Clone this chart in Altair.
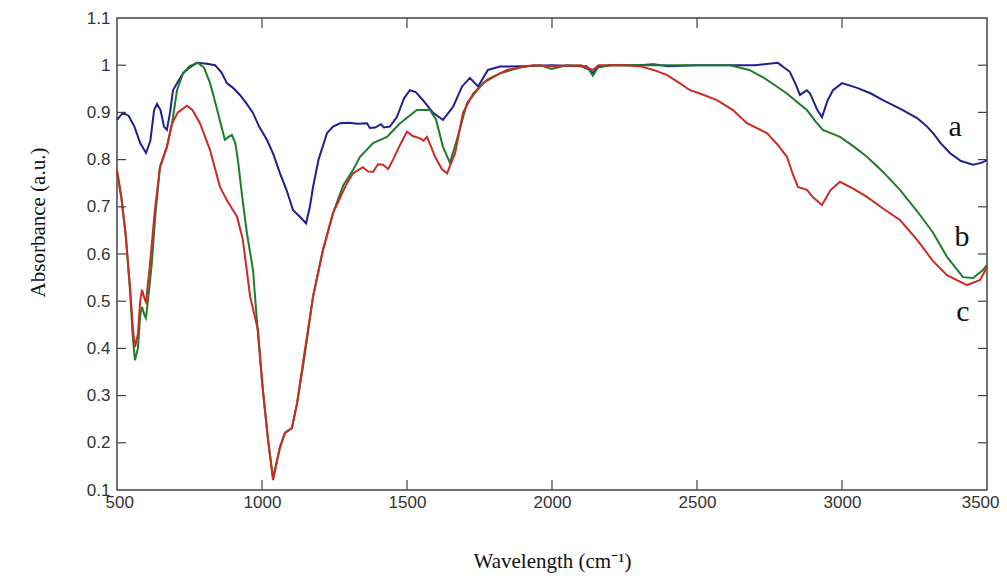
import altair as alt
import pandas as pd

# ---- data ----
a_x = [500, 520, 540, 560, 580, 600, 615, 628, 638, 650, 662, 672, 683, 693, 710, 728, 750, 775, 810, 838,
       860, 879, 900, 924, 945, 969, 990, 1017, 1040, 1062, 1085, 1107, 1131, 1152, 1165, 1176, 1195, 1224,
       1245, 1269, 1300, 1330, 1362, 1372, 1390, 1410, 1420, 1441, 1465, 1490, 1510, 1530, 1555, 1590, 1624,
       1659, 1690, 1717, 1745, 1779, 1821, 1900, 2000, 2100, 2130, 2141, 2155, 2200, 2300, 2350, 2400, 2500,
       2600, 2700, 2779, 2800, 2820, 2840, 2855, 2867, 2879, 2890, 2900, 2915, 2931, 2950, 2969, 3000, 3052,
       3100, 3141, 3200, 3259, 3290, 3314, 3340, 3372, 3410, 3452, 3480, 3500]
a_y = [0.884, 0.899, 0.893, 0.870, 0.835, 0.814, 0.840, 0.905, 0.918, 0.905, 0.870, 0.863, 0.900, 0.947,
       0.965, 0.983, 0.995, 1.005, 1.003, 1.000, 0.985, 0.962, 0.952, 0.937, 0.920, 0.899, 0.870, 0.842,
       0.810, 0.771, 0.735, 0.693, 0.679, 0.665, 0.700, 0.742, 0.800, 0.856, 0.870, 0.877, 0.878, 0.876,
       0.877, 0.867, 0.868, 0.875, 0.868, 0.870, 0.890, 0.930, 0.947, 0.943, 0.926, 0.899, 0.884, 0.912,
       0.955, 0.973, 0.955, 0.990, 0.997, 0.998, 1.000, 0.998, 0.990, 0.983, 0.995, 1.000, 1.000, 1.002,
       0.998, 1.000, 1.000, 1.000, 1.005, 0.995, 0.986, 0.960, 0.937, 0.942, 0.947, 0.940, 0.926, 0.905,
       0.890, 0.925, 0.947, 0.962, 0.952, 0.940, 0.926, 0.908, 0.888, 0.872, 0.856, 0.835, 0.814, 0.797,
       0.789, 0.793, 0.799]

b_x = [500, 515, 530, 545, 555, 562, 572, 580, 586, 595, 600, 610, 620, 632, 648, 672, 690, 707, 728, 750,
       779, 800, 821, 835, 848, 872, 885, 896, 908, 917, 930, 948, 969, 983, 1000, 1020, 1038, 1062, 1079,
       1103, 1121, 1141, 1160, 1176, 1210, 1245, 1280, 1314, 1338, 1383, 1431, 1476, 1534, 1579, 1600, 1624,
       1648, 1672, 1707, 1762, 1821, 1900, 1960, 1999, 2050, 2120, 2141, 2160, 2200, 2400, 2500, 2614, 2680,
       2731, 2770, 2810, 2845, 2879, 2910, 2934, 2993, 3040, 3086, 3140, 3200, 3260, 3314, 3362, 3417, 3452,
       3486, 3500]
b_y = [0.775, 0.720, 0.640, 0.520, 0.420, 0.375, 0.400, 0.470, 0.488, 0.470, 0.464, 0.520, 0.580, 0.680,
       0.784, 0.827, 0.877, 0.947, 0.983, 0.998, 1.005, 0.995, 0.962, 0.930, 0.899, 0.842, 0.848, 0.852,
       0.835, 0.799, 0.730, 0.644, 0.566, 0.454, 0.330, 0.210, 0.125, 0.191, 0.221, 0.231, 0.284, 0.360,
       0.440, 0.510, 0.608, 0.687, 0.745, 0.778, 0.806, 0.835, 0.848, 0.877, 0.905, 0.905, 0.885, 0.827,
       0.793, 0.842, 0.920, 0.962, 0.983, 0.997, 1.000, 0.992, 1.000, 0.998, 0.978, 0.997, 1.000, 1.000,
       1.000, 1.000, 0.990, 0.973, 0.957, 0.940, 0.922, 0.905, 0.880, 0.863, 0.848, 0.828, 0.806, 0.775,
       0.736, 0.690, 0.645, 0.594, 0.551, 0.549, 0.566, 0.577]

c_x = [500, 515, 530, 545, 555, 562, 572, 580, 586, 595, 600, 614, 630, 648, 672, 690, 710, 741, 760, 786,
       821, 855, 879, 914, 934, 959, 986, 1003, 1021, 1038, 1062, 1079, 1103, 1121, 1141, 1176, 1210, 1245,
       1293, 1314, 1348, 1365, 1383, 1400, 1417, 1435, 1452, 1475, 1500, 1520, 1545, 1557, 1569, 1597, 1620,
       1638, 1666, 1693, 1728, 1776, 1845, 1934, 2000, 2100, 2141, 2160, 2250, 2303, 2350, 2397, 2440, 2476,
       2510, 2569, 2624, 2672, 2741, 2780, 2810, 2830, 2848, 2879, 2900, 2931, 2960, 2993, 3040, 3086, 3140,
       3200, 3259, 3314, 3362, 3431, 3476, 3500]
c_y = [0.778, 0.720, 0.640, 0.530, 0.440, 0.403, 0.430, 0.500, 0.524, 0.505, 0.498, 0.580, 0.690, 0.784,
       0.827, 0.877, 0.900, 0.914, 0.905, 0.877, 0.820, 0.742, 0.714, 0.679, 0.630, 0.510, 0.439, 0.312,
       0.206, 0.121, 0.191, 0.221, 0.231, 0.284, 0.369, 0.510, 0.608, 0.687, 0.750, 0.771, 0.784, 0.775,
       0.774, 0.790, 0.789, 0.780, 0.800, 0.830, 0.859, 0.850, 0.845, 0.840, 0.848, 0.806, 0.780, 0.771,
       0.814, 0.899, 0.940, 0.969, 0.990, 1.000, 0.998, 1.000, 0.990, 1.000, 1.000, 0.998, 0.990, 0.979,
       0.962, 0.947, 0.940, 0.926, 0.905, 0.877, 0.856, 0.830, 0.806, 0.770, 0.742, 0.736, 0.720, 0.704,
       0.735, 0.753, 0.738, 0.721, 0.697, 0.672, 0.630, 0.585, 0.555, 0.534, 0.545, 0.572]

series_names = ["a", "b", "c"]
series_colors = ["#1f1f8f", "#1e7d2a", "#cc2b24"]

label_text = ["a", "b", "c"]
label_x = [3390, 3414, 3417]
label_y = [0.869, 0.636, 0.477]

x_ticks = [500, 1000, 1500, 2000, 2500, 3000, 3500]
y_ticks = [0.1, 0.2, 0.3, 0.4, 0.5, 0.6, 0.7, 0.8, 0.9, 1.0, 1.1]

# ---- build tables ----
rows = []
for name, xs, ys in zip(series_names, [a_x, b_x, c_x], [a_y, b_y, c_y]):
    for i, (xv, yv) in enumerate(zip(xs, ys)):
        rows.append({"wn": xv, "abs": yv, "series": name, "order": i})
lines_df = pd.DataFrame(rows)
labels_df = pd.DataFrame({"wn": label_x, "abs": label_y, "txt": label_text})
xt_df = pd.DataFrame({"wn": x_ticks[1:-1]})
yt_df = pd.DataFrame({"abs": y_ticks[1:-1]})

W, H = 870, 472
xscale = alt.Scale(domain=[500, 3500], nice=False, zero=False)
yscale = alt.Scale(domain=[0.1, 1.1], nice=False, zero=False)
label_font = "Liberation Sans Narrow, Liberation Sans"

x_axis = alt.Axis(values=x_ticks, format="d", title="Wavelength (cm⁻¹)", ticks=False, tickSize=0,
                  domain=False, grid=False, labelFlush=True, labelFlushOffset=12, labelPadding=4,
                  labelFont=label_font, labelFontSize=17, labelColor="#333333",
                  titleFont="Liberation Serif", titleFontSize=21, titleFontWeight="normal",
                  titleColor="#111111", titleY=71, titleBaseline="middle")
y_axis = alt.Axis(values=y_ticks, format="~g", title="Absorbance (a.u.)", ticks=False, tickSize=0,
                  domain=False, grid=False, labelFlush=False, labelPadding=7,
                  labelFont=label_font, labelFontSize=17, labelColor="#333333",
                  titleFont="Liberation Serif", titleFontSize=21, titleFontWeight="normal",
                  titleColor="#111111", titleX=-79, titleY=204, titleBaseline="middle",
                  titleAngle=270)

X = alt.X("wn:Q", scale=xscale, axis=x_axis, title="Wavelength (cm⁻¹)")
Y = alt.Y("abs:Q", scale=yscale, axis=y_axis, title="Absorbance (a.u.)")

lines = alt.Chart(lines_df).mark_line(strokeWidth=2).encode(
    x=X, y=Y,
    color=alt.Color("series:N", scale=alt.Scale(domain=series_names, range=series_colors), legend=None),
    order="order:Q",
    detail="series:N",
)

labels = alt.Chart(labels_df).mark_text(font="Liberation Serif", fontSize=30, color="#111111",
                                        align="center", baseline="middle").encode(
    x=X, y=Y, text="txt:N",
)

tick_col = "#444444"
xt_bot = alt.Chart(xt_df).mark_rule(color=tick_col, strokeWidth=1.2).encode(
    x=X, y=alt.value(H), y2=alt.value(H - 10))
xt_top = alt.Chart(xt_df).mark_rule(color=tick_col, strokeWidth=1.2).encode(
    x=X, y=alt.value(0), y2=alt.value(10))
yt_left = alt.Chart(yt_df).mark_rule(color=tick_col, strokeWidth=1.2).encode(
    y=Y, x=alt.value(0), x2=alt.value(9))
yt_right = alt.Chart(yt_df).mark_rule(color=tick_col, strokeWidth=1.2).encode(
    y=Y, x=alt.value(W), x2=alt.value(W - 9))

chart = alt.layer(lines, labels, xt_bot, xt_top, yt_left, yt_right).properties(
    width=W, height=H,
    autosize=alt.AutoSizeParams(type="none"),
    padding={"left": 109, "top": 10, "right": 12, "bottom": 86},
    background="white",
).configure_view(stroke="#444444", strokeWidth=1.5)

chart.save("out.html", embed_options={"renderer": "svg", "actions": False})
